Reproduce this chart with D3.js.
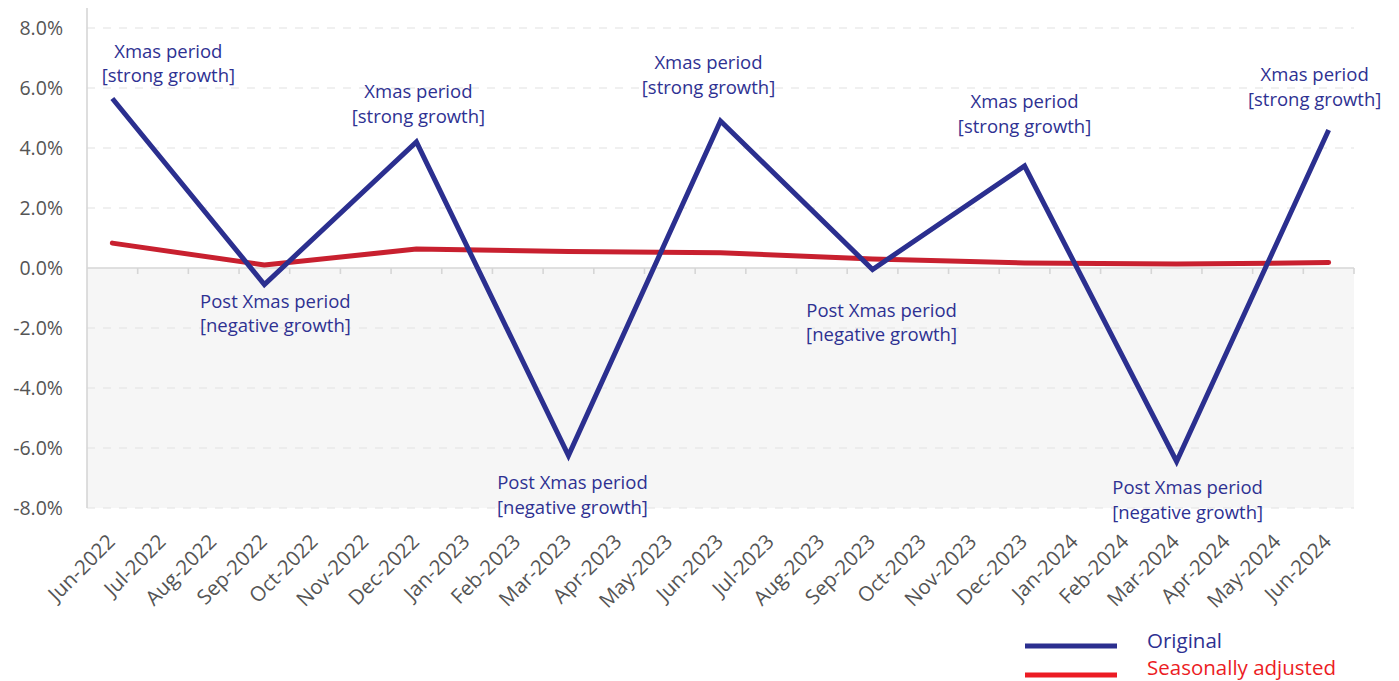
<!DOCTYPE html>
<html>
<head>
<meta charset="utf-8">
<script src="https://cdn.jsdelivr.net/npm/d3@7"></script>
<style>
  html, body { margin: 0; padding: 0; background: #ffffff; }
  svg { display: block; }
  text { font-family: "Open Sans", "Noto Sans", sans-serif; }
</style>
</head>
<body>
<svg id="chart" width="1399" height="681"></svg>
<script>
// ---- Data ----
const months = ["Jun-2022","Jul-2022","Aug-2022","Sep-2022","Oct-2022","Nov-2022","Dec-2022",
  "Jan-2023","Feb-2023","Mar-2023","Apr-2023","May-2023","Jun-2023","Jul-2023","Aug-2023",
  "Sep-2023","Oct-2023","Nov-2023","Dec-2023","Jan-2024","Feb-2024","Mar-2024","Apr-2024",
  "May-2024","Jun-2024"];
// Quarterly observations (null = no observation for that month)
const original = [5.65, null, null, -0.55, null, null, 4.2, null, null, -6.25, null, null, 4.9,
  null, null, -0.05, null, null, 3.4, null, null, -6.45, null, null, 4.6];
const seasonallyAdjusted = [0.83, null, null, 0.1, null, null, 0.63, null, null, 0.55, null, null, 0.51,
  null, null, 0.3, null, null, 0.17, null, null, 0.13, null, null, 0.18];
const yTicks = [-8, -6, -4, -2, 0, 2, 4, 6, 8];
const seriesNames = ["Original", "Seasonally adjusted"];
const annotationMonths = ["Jun-2022","Sep-2022","Dec-2022","Mar-2023","Jun-2023","Sep-2023","Dec-2023","Mar-2024","Jun-2024"];
const annotationLines = [
  ["Xmas period", "[strong growth]"],
  ["Post Xmas period", "[negative growth]"],
  ["Xmas period", "[strong growth]"],
  ["Post Xmas period", "[negative growth]"],
  ["Xmas period", "[strong growth]"],
  ["Post Xmas period", "[negative growth]"],
  ["Xmas period", "[strong growth]"],
  ["Post Xmas period", "[negative growth]"],
  ["Xmas period", "[strong growth]"]
];

// ---- Layout ----
const plot = { left: 87, right: 1354, top: 28, bottom: 508, axisTop: 8 };
// offsets of annotation (dx of centre, dy of first baseline) relative to the data point
const annotationOffsets = [[56, -41], [11, 23], [2, -44], [4, 33.5], [-12, -52], [9, 47], [0, -58], [11, 32.5], [-14, -49]];
const lineGap = 24.5;

const colBlue = "#2b2f8f", colRed = "#c8202f", colLegendRed = "#ec1c24";
const colText = "#555555", colAnno = "#2e3192";

const svg = d3.select("#chart");

const x = d3.scaleBand().domain(months).range([plot.left, plot.right]).padding(0);
const xc = m => x(m) + x.bandwidth() / 2;
const y = d3.scaleLinear().domain([-8, 8]).range([plot.bottom, plot.top]);

// shaded negative area
svg.append("rect")
  .attr("x", plot.left).attr("y", y(0))
  .attr("width", plot.right - plot.left).attr("height", y(-8) - y(0))
  .attr("fill", "#f6f6f6");

// dashed gridlines
svg.append("g").selectAll("line").data(yTicks.filter(d => d !== 0)).join("line")
  .attr("x1", plot.left).attr("x2", plot.right)
  .attr("y1", d => y(d)).attr("y2", d => y(d))
  .attr("stroke", "#e2e2e2").attr("stroke-width", 1.2)
  .attr("stroke-dasharray", "8,8");

// left axis line
svg.append("line")
  .attr("x1", plot.left).attr("x2", plot.left)
  .attr("y1", plot.axisTop).attr("y2", plot.bottom)
  .attr("stroke", "#d6d6d6").attr("stroke-width", 1.6);

// y-axis labels
const yAxis = d3.axisLeft(y).tickValues(yTicks).tickSize(0).tickPadding(24)
  .tickFormat(d => d.toFixed(1) + "%");
const gy = svg.append("g").attr("transform", `translate(${plot.left},0)`).call(yAxis);
gy.select(".domain").remove();
gy.selectAll("text").attr("fill", colText).style("font-size", "19.5px")
  .style("font-family", "'Open Sans', sans-serif");

// zero line with boundary ticks
svg.append("line")
  .attr("x1", plot.left).attr("x2", plot.right)
  .attr("y1", y(0)).attr("y2", y(0))
  .attr("stroke", "#d6d6d6").attr("stroke-width", 1.6);
const boundaries = months.map(m => x(m)).concat([plot.right]);
svg.append("g").selectAll("line").data(boundaries.slice(1)).join("line")
  .attr("x1", d => d).attr("x2", d => d)
  .attr("y1", y(0)).attr("y2", y(0) + 6)
  .attr("stroke", "#d6d6d6").attr("stroke-width", 1.6);

// x-axis labels
const xAxis = d3.axisBottom(x).tickSize(0);
const gx = svg.append("g").attr("transform", `translate(0,${plot.bottom})`).call(xAxis);
gx.select(".domain").remove();
gx.selectAll("text")
  .attr("y", 0).attr("dy", 0)
  .attr("transform", "translate(4,35) rotate(-45)")
  .style("text-anchor", "end")
  .style("font-size", "20.5px")
  .style("font-family", "'Open Sans', sans-serif")
  .attr("fill", colText);

// series lines
const line = d3.line().x(d => xc(d.m)).y(d => y(d.v));
function pts(vals) {
  return months.map((m, i) => ({ m, v: vals[i] })).filter(d => d.v !== null);
}
svg.append("path").datum(pts(seasonallyAdjusted))
  .attr("d", line).attr("fill", "none")
  .attr("stroke", colRed).attr("stroke-width", 5)
  .attr("stroke-linejoin", "round").attr("stroke-linecap", "round");
svg.append("path").datum(pts(original))
  .attr("d", line).attr("fill", "none")
  .attr("stroke", colBlue).attr("stroke-width", 5)
  .attr("stroke-linejoin", "miter").attr("stroke-linecap", "butt");

// annotations
const ga = svg.append("g");
annotationMonths.forEach((m, i) => {
  const v = original[months.indexOf(m)];
  const [dx, dy] = annotationOffsets[i];
  const t = ga.append("text")
    .attr("text-anchor", "middle")
    .attr("fill", colAnno)
    .style("font-size", "18.5px");
  annotationLines[i].forEach((s, k) => {
    t.append("tspan")
      .attr("x", xc(m) + dx)
      .attr("y", y(v) + dy + k * lineGap)
      .text(s);
  });
});

// legend
const legend = svg.append("g");
const legendRows = [
  { name: seriesNames[0], line: colBlue, text: colAnno, ly: 646, ty: 648 },
  { name: seriesNames[1], line: colLegendRed, text: colLegendRed, ly: 675, ty: 675 }
];
legendRows.forEach(r => {
  legend.append("line")
    .attr("x1", 1025).attr("x2", 1117)
    .attr("y1", r.ly).attr("y2", r.ly)
    .attr("stroke", r.line).attr("stroke-width", 5);
  legend.append("text")
    .attr("x", 1147).attr("y", r.ty)
    .attr("fill", r.text)
    .style("font-size", "20.5px")
    .text(r.name);
});
</script>
</body>
</html>
